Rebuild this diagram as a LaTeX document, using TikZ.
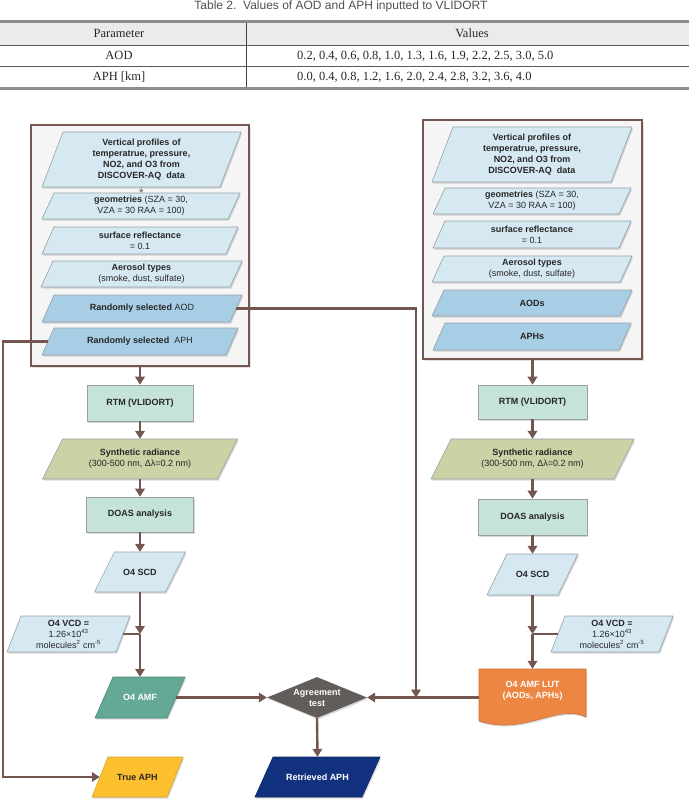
\documentclass[tikz,border=0pt]{standalone}
\usepackage{fontspec}
\setmainfont{Liberation Sans}
\newfontfamily\tabserif{Liberation Serif}
\usetikzlibrary{arrows.meta,shapes.geometric,shadows,calc}

\definecolor{brn}{RGB}{115,86,78}
\definecolor{lblue}{RGB}{214,233,243}
\definecolor{mblue}{RGB}{168,206,229}
\definecolor{pgborder}{RGB}{150,160,165}
\definecolor{tealbox}{RGB}{198,227,218}
\definecolor{olive}{RGB}{202,210,166}
\definecolor{amfc}{RGB}{100,168,150}
\definecolor{diag}{RGB}{98,92,90}
\definecolor{lutc}{RGB}{236,134,66}
\definecolor{goldc}{RGB}{252,192,46}
\definecolor{navyc}{RGB}{18,50,128}
\definecolor{tdark}{RGB}{38,38,38}
\definecolor{capgray}{RGB}{80,80,80}

\tikzset{
  shp/.style={draw=pgborder, line width=0.6pt,
    drop shadow={shadow xshift=1.2pt, shadow yshift=-1.5pt, opacity=0.3}},
  txt/.style={inner sep=0pt, align=center, text=tdark, font=\fontsize{9}{11}\selectfont},
  wtxt/.style={txt, text=white, font=\fontsize{9}{11}\selectfont\bfseries},
  arr/.style={draw=brn, line width=2.4pt, -{Triangle[length=8pt,width=9.5pt]}},
  ln/.style={draw=brn, line width=2.4pt},
  outerbox/.style={draw=brn, line width=1.7pt, fill=black!4, inner sep=0pt,
    drop shadow={shadow xshift=1.5pt, shadow yshift=-1.5pt, opacity=0.25}},
  rectbox/.style={shp, fill=tealbox, txt, font=\fontsize{9}{11}\selectfont\bfseries},
  tabtxt/.style={inner sep=0pt, anchor=base, font=\tabserif\fontsize{12.5}{14}\selectfont, text=black!85},
}

% name, cx, cy, w(mid), h, slant, shape style, node style extra, text
\newcommand\pgram[9]{%
  \path[#7] ({#2-#4/2+#6/2},{#3-#5/2}) -- ({#2+#4/2+#6/2},{#3-#5/2}) --
    ({#2+#4/2-#6/2},{#3+#5/2}) -- ({#2-#4/2-#6/2},{#3+#5/2}) -- cycle;
  \node[txt, minimum width=#4pt, minimum height=#5pt, #8] (#1) at (#2,#3) {#9};
}

\begin{document}
\begin{tikzpicture}[x=1pt,y=-1pt]
\useasboundingbox (0,0) rectangle (689,800);

% ---------- table ----------
\node[inner sep=0pt, anchor=base, text=capgray, font=\fontsize{12}{14}\selectfont] (cap) at (341,9.5)
  {Table 2.\ \ Values of AOD and APH inputted to VLIDORT};
\fill[black!8] (0,22) rectangle (689,45);
\draw[line width=0.7pt, black!65] (0,45) -- (689,45);
\draw[line width=0.7pt, black!65] (0,66) -- (689,66);
\draw[line width=0.7pt, black!75] (246,22) -- (246,88);
\draw[line width=3pt, black!45] (0,22) -- (689,22);
\draw[line width=3pt, black!45] (0,88) -- (689,88);
\node[tabtxt] (hpar) at (119,37.5) {Parameter};
\node[tabtxt] (hval) at (472,37.5) {Values};
\node[tabtxt] (aodp) at (119,59.5) {AOD};
\node[tabtxt, anchor=base west] (aodv) at (297,59.5) {0.2, 0.4, 0.6, 0.8, 1.0, 1.3, 1.6, 1.9, 2.2, 2.5, 3.0, 5.0};
\node[tabtxt] (aphp) at (119,81) {APH [km]};
\node[tabtxt, anchor=base west] (aphv) at (297,81) {0.0, 0.4, 0.8, 1.2, 1.6, 2.0, 2.4, 2.8, 3.2, 3.6, 4.0};

% ---------- outer boxes ----------
\node[outerbox, minimum width=218pt, minimum height=241pt] (boxL) at (140,245.5) {};
\node[outerbox, minimum width=219pt, minimum height=239pt] (boxR) at (532.5,239.5) {};

% ---------- left input stack ----------
\pgram{l1}{141.5}{159.5}{178}{55}{21}{shp, fill=lblue}{}{\textbf{Vertical profiles of}\\\textbf{temperatrue, pressure,}\\\textbf{NO2, and O3 from}\\\textbf{DISCOVER-AQ\ \ data}}
\pgram{l2}{141}{206}{186}{26}{12}{shp, fill=lblue}{}{\textbf{geometries} (SZA = 30,\\VZA = 30 RAA = 100)}
\pgram{l3}{140}{240.5}{184}{27}{12}{shp, fill=lblue}{}{\textbf{surface reflectance}\\= 0.1}
\pgram{l4}{141.5}{274}{189}{26}{12}{shp, fill=lblue}{}{\textbf{Aerosol types}\\(smoke, dust, sulfate)}
\pgram{aodL}{142}{308.5}{188}{27}{12}{shp, fill=mblue}{}{\textbf{Randomly selected} AOD}
\pgram{aphL}{140}{341.5}{184}{27}{12}{shp, fill=mblue}{}{\textbf{Randomly selected}\ \ APH}
\draw[-{Triangle[length=3pt,width=4pt]}, black!50, line width=0.5pt] (l1.south) -- (l2.north);

% ---------- right input stack ----------
\pgram{r1}{532}{154.5}{179}{55}{21}{shp, fill=lblue}{}{\textbf{Vertical profiles of}\\\textbf{temperatrue, pressure,}\\\textbf{NO2, and O3 from}\\\textbf{DISCOVER-AQ\ \ data}}
\pgram{r2}{532}{201}{186}{26}{12}{shp, fill=lblue}{}{\textbf{geometries} (SZA = 30,\\VZA = 30 RAA = 100)}
\pgram{r3}{532}{234.5}{186}{27}{12}{shp, fill=lblue}{}{\textbf{surface reflectance}\\= 0.1}
\pgram{r4}{532}{269}{188}{26}{12}{shp, fill=lblue}{}{\textbf{Aerosol types}\\(smoke, dust, sulfate)}
\pgram{aodR}{532}{303}{188}{26}{12}{shp, fill=mblue}{}{\textbf{AODs}}
\pgram{aphR}{532}{336.5}{186}{27}{12}{shp, fill=mblue}{}{\textbf{APHs}}

% ---------- left processing column ----------
\node[rectbox, minimum width=106pt, minimum height=36pt] (rtmL) at (140,403) {RTM (VLIDORT)};
\pgram{synL}{140}{459}{175}{40}{20}{shp, fill=olive}{}{\textbf{Synthetic radiance}\\(300-500 nm, Δλ=0.2 nm)}
\node[rectbox, minimum width=107pt, minimum height=35pt] (doasL) at (140,514.5) {DOAS analysis};
\pgram{scdL}{140}{572}{71}{40}{20}{shp, fill=lblue}{}{\textbf{O4 SCD}}
\pgram{vcdL}{68.5}{634}{109}{36}{14}{shp, fill=lblue}{}{\textbf{O4 VCD =}\\1.26×10\textsuperscript{43}\\molecules\textsuperscript{2} cm\textsuperscript{-5}}
\pgram{amf}{140}{697.5}{72}{41}{18}{shp, fill=amfc, draw=amfc!80!black}{wtxt}{O4 AMF}
\pgram{trueaph}{137.5}{777}{75}{40}{16}{shp, fill=goldc, draw=goldc!85!black}{font=\fontsize{9}{11}\selectfont\bfseries}{True APH}
\pgram{ret}{317.5}{777}{107}{40}{18}{shp, fill=navyc, draw=navyc!80!black}{wtxt}{Retrieved APH}
\node[shape=diamond, aspect=2.4, inner sep=0pt, minimum width=100pt, minimum height=41pt,
  fill=diag, drop shadow={shadow xshift=1.2pt, shadow yshift=-1.5pt, opacity=0.3},
  wtxt] (dia) at (317,697.5) {Agreement\\test};

% ---------- right processing column ----------
\node[rectbox, minimum width=109pt, minimum height=34pt] (rtmR) at (532.5,402) {RTM (VLIDORT)};
\pgram{synR}{532.5}{459}{183}{40}{20}{shp, fill=olive}{}{\textbf{Synthetic radiance}\\(300-500 nm, Δλ=0.2 nm)}
\node[rectbox, minimum width=109pt, minimum height=36pt] (doasR) at (532.5,517) {DOAS analysis};
\pgram{scdR}{532.5}{574.5}{71}{41}{20}{shp, fill=lblue}{}{\textbf{O4 SCD}}
\pgram{vcdR}{612}{634}{108}{36}{14}{shp, fill=lblue}{}{\textbf{O4 VCD =}\\1.26×10\textsuperscript{43}\\molecules\textsuperscript{2} cm\textsuperscript{-5}}
\path[shp, fill=lutc, draw=lutc!85!black] (479,669) -- (586,669) -- (586,717)
  .. controls (557,703) and (525,736) .. (479,721) -- cycle;
\node[wtxt, minimum width=107pt, minimum height=43pt] (lut) at (532.5,690.5) {O4 AMF LUT\\(AODs, APHs)};

% ---------- connectors ----------
\draw[arr] (boxL.south) -- (rtmL.north);
\draw[arr] (rtmL.south) -- (synL.north);
\draw[arr] (synL.south) -- (doasL.north);
\draw[arr] (doasL.south) -- (scdL.north);
\coordinate (jL) at (scdL.south |- vcdL.east);
\draw[arr] (scdL.south) -- (jL);
\draw[ln] (vcdL.east) -- (jL);
\draw[arr] (jL) -- (amf.north);
\draw[arr] (amf.east) -- (dia.west);
\draw[arr] (dia.south) -- (ret.north);

\draw[arr] (boxR.south) -- (rtmR.north);
\draw[arr] (rtmR.south) -- (synR.north);
\draw[arr] (synR.south) -- (doasR.north);
\draw[arr] (doasR.south) -- (scdR.north);
\coordinate (jR) at (scdR.south |- vcdR.west);
\draw[arr] (scdR.south) -- (jR);
\draw[ln] (vcdR.west) -- (jR);
\draw[arr] (jR) -- (lut.north);
\draw[arr] (lut.west |- dia.east) -- (dia.east);

\coordinate (aodx) at (416,0);
\draw[arr] (aodL.east) -| (aodx |- dia.east);
\coordinate (lx) at (3,0);
\draw[arr] (aphL.west) -- (aphL.west -| lx) |- (trueaph.west);
\end{tikzpicture}
\end{document}
